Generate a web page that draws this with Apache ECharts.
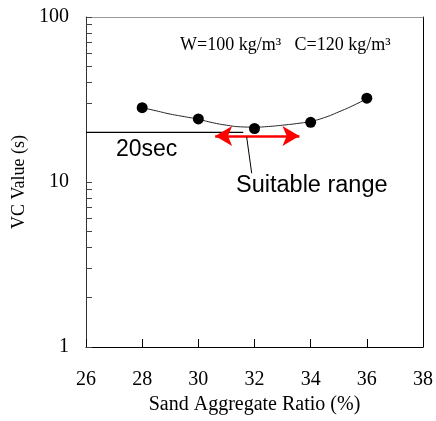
<!DOCTYPE html>
<html>
<head>
<meta charset="utf-8">
<script src="https://cdn.jsdelivr.net/npm/echarts@6/dist/echarts.min.js"></script>
<style>html,body{margin:0;padding:0;background:#fff}#c{width:436px;height:421px}</style>
</head>
<body>
<div id="c"></div>
<script>
// measured points
const ratio = [28, 30, 32, 34, 36];
const vcValue = [28.2, 24.1, 21.1, 23.0, 32.2];
// fitted curve
const curveX = [28, 28.5, 29, 29.5, 30, 30.5, 31, 31.5, 32, 32.5, 33, 33.5, 34, 34.5, 35, 35.5, 36];
const curveY = [28.2, 27.0, 25.8, 24.9, 24.0, 22.9, 22.1, 21.6, 21.5, 21.7, 22.1, 22.6, 23.3, 24.6, 26.6, 29.0, 32.0];
// 20 sec reference line
const refX = [26, 31.6];
const refY = [20, 20];
// suitable range arrow
const rangeX = [30.6, 33.6];
const rangeY = 19.0;
// leader line
const leaderX = [31.72, 31.9];
const leaderY = [18.8, 11.3];
const xTicks = [26, 28, 30, 32, 34, 36, 38];
const yLabels = [1, 10, 100];
const yMinor = [1,2,3,4,5,6,7,8,9,10,20,30,40,50,60,70,80,90,100];

const chart = echarts.init(document.getElementById('c'));
const serif = '"Liberation Serif", "Times New Roman", serif';
const sans = '"Liberation Sans", Arial, sans-serif';

chart.setOption({
  animation: false,
  grid: {left: 86, right: 10, top: 17, bottom: 74},
  xAxis: [{
    type: 'value', min: 26, max: 38, interval: 2, position: 'bottom',
    axisLine: {lineStyle: {color: '#000', width: 1}},
    axisTick: {inside: true, length: 8, lineStyle: {color: '#000'}},
    axisLabel: {fontFamily: serif, fontSize: 20, color: '#000', margin: 23,
      customValues: xTicks},
    splitLine: {show: false},
    name: 'Sand Aggregate Ratio (%)', nameLocation: 'middle', nameGap: 48,
    nameTextStyle: {fontFamily: serif, fontSize: 20, color: '#000'}
  }, {
    type: 'value', min: 26, max: 38, position: 'top',
    axisLine: {show: true, lineStyle: {color: '#999', width: 1}},
    axisTick: {show: false}, axisLabel: {show: false}, splitLine: {show: false}
  }],
  yAxis: [{
    type: 'log', logBase: 10, min: 1, max: 100, position: 'left',
    axisLine: {show: true, lineStyle: {color: '#333', width: 1}},
    axisTick: {inside: true, length: 6, customValues: yMinor, lineStyle: {color: '#444'}},
    axisLabel: {fontFamily: serif, fontSize: 20, color: '#000', margin: 17,
      customValues: yLabels},
    splitLine: {show: false},
    name: 'VC Value (s)', nameLocation: 'middle', nameGap: 55, nameRotate: 90,
    nameTextStyle: {fontFamily: serif, fontSize: 18, color: '#000'}
  }, {
    type: 'log', logBase: 10, min: 1, max: 100, position: 'right',
    axisLine: {show: true, lineStyle: {color: '#000', width: 1}},
    axisTick: {show: false}, axisLabel: {show: false}, splitLine: {show: false}
  }],
  series: [{
    type: 'line', name: 'curve',
    data: curveX.map((x, i) => [x, curveY[i]]),
    smooth: true, showSymbol: false, symbol: 'none',
    lineStyle: {color: '#222', width: 1}, z: 2
  }, {
    type: 'line', name: 'ref',
    data: refX.map((x, i) => [x, refY[i]]),
    symbol: 'none', lineStyle: {color: '#000', width: 1.2}, z: 2,
    markLine: {
      silent: true, animation: false,
      label: {show: false},
      data: [
        [{coord: [rangeX[0], rangeY], symbol: 'arrow', symbolSize: [15, 17]},
         {coord: [rangeX[1], rangeY], symbol: 'arrow', symbolSize: [15, 17],
          lineStyle: {color: '#ff0000', width: 2.5, type: 'solid'}}],
        [{coord: [leaderX[0], leaderY[0]], symbol: 'none'},
         {coord: [leaderX[1], leaderY[1]], symbol: 'none',
          lineStyle: {color: '#000', width: 1, type: 'solid'}}]
      ],
      lineStyle: {type: 'solid'}
    }
  }, {
    type: 'scatter', name: 'points',
    data: ratio.map((x, i) => [x, vcValue[i]]),
    symbolSize: 11, itemStyle: {color: '#000', opacity: 1}, z: 5
  }],
  graphic: [{
    type: 'text', left: 180, top: 36,
    style: {text: 'W=100 kg/m³   C=120 kg/m³', font: '18px ' + serif, fill: '#000'}
  }, {
    type: 'text', x: 116, y: 150,
    style: {text: '20sec', font: '23px ' + sans, fill: '#000', verticalAlign: 'middle'}
  }, {
    type: 'text', x: 236, y: 186,
    style: {text: 'Suitable range', font: '23.5px ' + sans, fill: '#000', verticalAlign: 'middle'}
  }]
});
</script>
</body>
</html>
